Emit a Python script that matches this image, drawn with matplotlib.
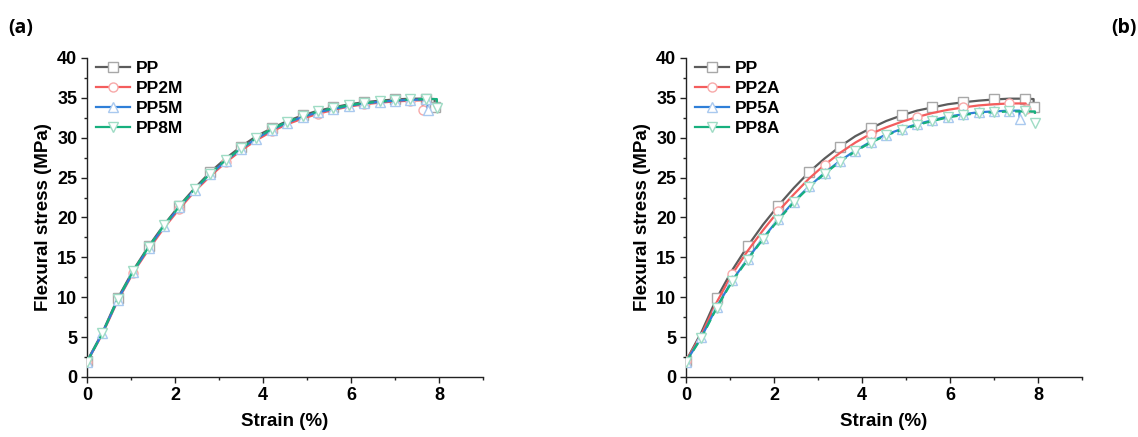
import matplotlib
matplotlib.use("Agg")
import matplotlib.pyplot as plt
from matplotlib.lines import Line2D
from matplotlib.ticker import MultipleLocator

# Common strain grid (%)
strain = [0.0, 0.35, 0.7, 1.05, 1.4, 1.75, 2.1, 2.45, 2.8, 3.15, 3.5, 3.85,
          4.2, 4.55, 4.9, 5.25, 5.6, 5.95, 6.3, 6.65, 7.0, 7.35, 7.7]

# Flexural stress (MPa) along the grid; each series ends with (end strain, end stress, stress after break)
pp_stress = [2.0, 5.6, 9.9, 13.4, 16.4, 19.1, 21.5, 23.7, 25.7, 27.4, 28.9, 30.2,
             31.2, 32.1, 32.8, 33.4, 33.8, 34.2, 34.45, 34.65, 34.8, 34.9, 34.9]
pp_end = (7.90, 34.85, 33.9)

pp2m_stress = [1.9, 5.4, 9.6, 13.1, 16.0, 18.7, 21.1, 23.3, 25.2, 26.9, 28.4, 29.7,
               30.8, 31.7, 32.4, 33.0, 33.5, 33.9, 34.2, 34.4, 34.55, 34.65]
pp2m_end = (7.63, 34.7, 33.5)

pp5m_stress = [1.9, 5.5, 9.7, 13.2, 16.2, 18.9, 21.3, 23.5, 25.4, 27.1, 28.6, 29.9,
               31.0, 31.9, 32.6, 33.2, 33.6, 34.0, 34.3, 34.5, 34.65, 34.75, 34.8]
pp5m_end = (7.74, 34.8, 33.5)

pp8m_stress = [1.9, 5.5, 9.8, 13.3, 16.3, 19.0, 21.4, 23.6, 25.5, 27.2, 28.7, 30.0,
               31.1, 32.0, 32.7, 33.3, 33.7, 34.1, 34.35, 34.55, 34.7, 34.8, 34.85]
pp8m_end = (7.95, 34.85, 33.7)

pp2a_stress = [2.0, 5.3, 9.4, 12.9, 15.8, 18.4, 20.8, 22.9, 24.9, 26.6, 28.1, 29.4,
               30.5, 31.3, 32.0, 32.6, 33.1, 33.5, 33.8, 34.05, 34.2, 34.3]
pp2a_end = (7.72, 34.3, 33.6)

pp5a_stress = [1.9, 5.0, 8.8, 12.1, 14.8, 17.4, 19.8, 22.0, 23.9, 25.6, 27.1, 28.4,
               29.5, 30.4, 31.1, 31.7, 32.2, 32.65, 32.95, 33.2, 33.3, 33.4]
pp5a_end = (7.58, 33.4, 32.3)

pp8a_stress = [1.9, 4.9, 8.7, 12.0, 14.7, 17.3, 19.7, 21.9, 23.8, 25.5, 27.0, 28.3,
               29.4, 30.3, 31.0, 31.6, 32.1, 32.55, 32.85, 33.1, 33.2, 33.3, 33.3]
pp8a_end = (7.93, 33.3, 31.9)

labels_a = ["PP", "PP2M", "PP5M", "PP8M"]
labels_b = ["PP", "PP2A", "PP5A", "PP8A"]

x_ticks = [0, 2, 4, 6, 8]
y_ticks = [0, 5, 10, 15, 20, 25, 30, 35, 40]

colors = ["#5c5c5c", "#f45d5d", "#2f7fd8", "#17b07e"]
edge_colors = ["#a8a8a8", "#f7a9a9", "#a9c9ef", "#9fdcc5"]
markers = ["s", "o", "^", "v"]
mark_step = [2, 3, 1, 1]

FONT = "Liberation Sans"


def curve(stress, end):
    ex, ey, dy = end
    xs = strain[:len(stress)] + [ex, ex]
    ys = list(stress) + [ey, dy]
    return xs, ys


def draw_panel(ax, series, labels):
    for i, (stress, end) in enumerate(series):
        xs, ys = curve(stress, end)
        idx = list(range(0, len(stress), mark_step[i])) + [len(xs) - 1]
        ls = (0, (4, 2)) if i == 3 else "-"
        ax.plot(xs, ys, color=colors[i], lw=1.6, ls=ls, marker=markers[i],
                markersize=6.5, markerfacecolor="white",
                markeredgecolor=edge_colors[i], markeredgewidth=1.0,
                markevery=idx, zorder=2 + i)

    ax.set_xlim(0, 9)
    ax.set_ylim(0, 40)
    ax.set_xticks(x_ticks)
    ax.set_yticks(y_ticks)
    ax.xaxis.set_minor_locator(MultipleLocator(1))
    ax.yaxis.set_minor_locator(MultipleLocator(2.5))
    for side in ("top", "right"):
        ax.spines[side].set_visible(False)
    for side in ("left", "bottom"):
        ax.spines[side].set_linewidth(1.0)
        ax.spines[side].set_color("#222222")
    ax.tick_params(which="major", direction="out", length=4, width=1.0,
                   labelsize=13, pad=3, colors="#222222", labelcolor="black")
    ax.tick_params(which="minor", direction="out", length=2.5, width=1.0,
                   colors="#222222")
    for lab in ax.get_xticklabels() + ax.get_yticklabels():
        lab.set_fontweight("bold")
        lab.set_fontfamily(FONT)

    ax.set_xlabel("Strain (%)", fontsize=13.5, fontweight="bold",
                  fontfamily=FONT, labelpad=7)
    ax.set_ylabel("Flexural stress (MPa)", fontsize=13.5, fontweight="bold",
                  fontfamily=FONT, labelpad=4)

    handles = [Line2D([], [], color=colors[i], lw=1.6, marker=markers[i],
                      markersize=6.5, markerfacecolor="white",
                      markeredgecolor=edge_colors[i], markeredgewidth=1.0)
               for i in range(4)]
    ax.legend(handles, labels, loc="upper left",
              bbox_to_anchor=(0.022, 0.99), frameon=False, borderpad=0,
              borderaxespad=0, handlelength=2.0, handletextpad=0.3,
              labelspacing=0.28,
              prop={"family": FONT, "weight": "bold", "size": 12.5})


fig = plt.figure(figsize=(11.38, 4.37), dpi=100)
ax_a = fig.add_axes([0.0765, 0.1373, 0.348, 0.730])
ax_b = fig.add_axes([0.6028, 0.1373, 0.348, 0.730])

draw_panel(ax_a, [(pp_stress, pp_end), (pp2m_stress, pp2m_end),
                  (pp5m_stress, pp5m_end), (pp8m_stress, pp8m_end)], labels_a)
draw_panel(ax_b, [(pp_stress, pp_end), (pp2a_stress, pp2a_end),
                  (pp5a_stress, pp5a_end), (pp8a_stress, pp8a_end)], labels_b)

fig.text(20.5 / 1138, 1 - 28.5 / 437, "(a)", ha="center", va="center",
         fontsize=14, fontweight="bold", fontfamily="Open Sans")
fig.text(1124 / 1138, 1 - 27.5 / 437, "(b)", ha="center", va="center",
         fontsize=14, fontweight="bold", fontfamily="Open Sans")

fig.savefig("out.png", dpi=100, facecolor="white")
